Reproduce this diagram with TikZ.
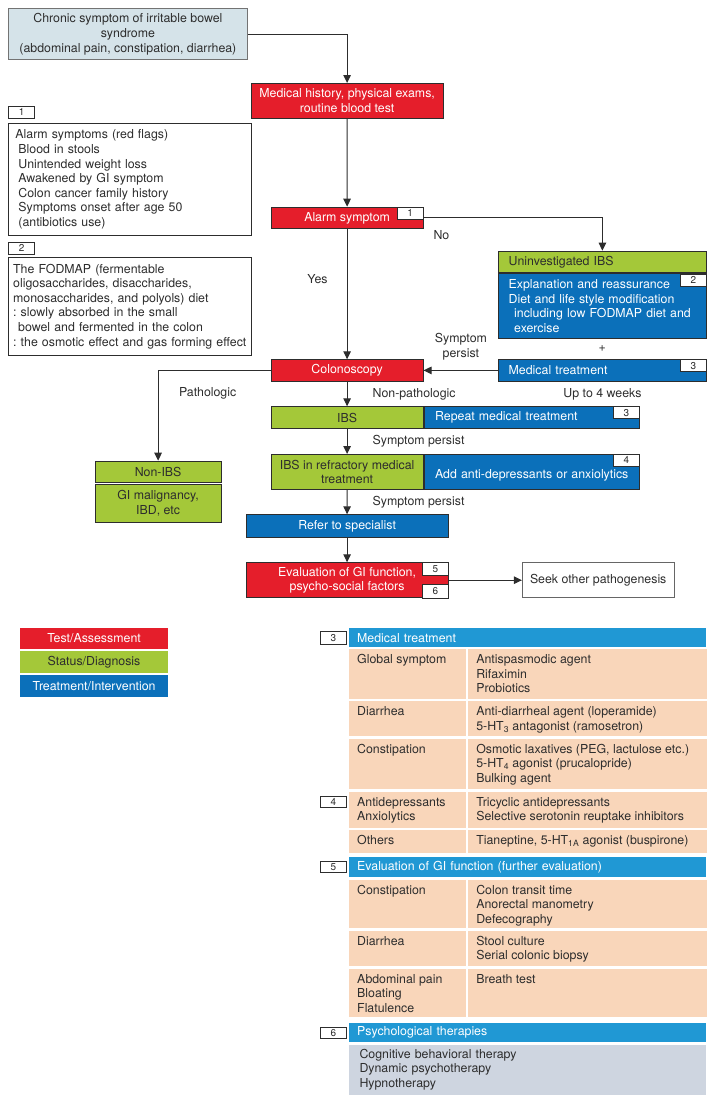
\documentclass[tikz,border=0pt]{standalone}
\usepackage{fontspec}
\setmainfont{TeX Gyre Heros}
\usetikzlibrary{positioning,arrows.meta}

\definecolor{testred}{RGB}{229,30,43}
\definecolor{statgreen}{RGB}{164,200,57}
\definecolor{treatblue}{RGB}{11,112,186}
\definecolor{headblue}{RGB}{32,152,212}
\definecolor{peach}{RGB}{249,214,186}
\definecolor{startgray}{RGB}{213,227,233}
\definecolor{psychgray}{RGB}{206,213,224}
\definecolor{inkgray}{RGB}{45,45,45}

\begin{document}
\begin{tikzpicture}[x=1bp, y=-1bp,
    every node/.style={font=\fontsize{12.4}{14.6}\selectfont, text=inkgray, inner sep=0pt},
    box/.style={draw=inkgray, line width=0.8bp, anchor=north west, align=center},
    test/.style={box, fill=testred, text=white},
    status/.style={box, fill=statgreen},
    treat/.style={box, fill=treatblue, text=white},
    note/.style={box, fill=white, align=left, inner xsep=6.7bp},
    tag/.style={draw=inkgray, line width=0.6bp, fill=white, font=\fontsize{10}{10}\selectfont, minimum width=26bp, minimum height=12bp},
    key/.style={anchor=north west, minimum width=147.7bp, minimum height=21.7bp},
    head/.style={anchor=north west, fill=headblue, text=white, minimum width=357bp, minimum height=19.4bp, text width=341bp, inner xsep=8bp, align=left},
    cell/.style={anchor=north west, fill=peach},
    celltx/.style={anchor=north west, align=left, inner xsep=8bp, inner ysep=5.5bp},
    arr/.style={-{Triangle[length=8bp,width=7.5bp]}, draw=inkgray, line width=1bp}]

\useasboundingbox (0,0) rectangle (715,1099);

% Flow chart
\node[box, draw=black!55, fill=startgray, minimum width=238.4bp, minimum height=51bp] (chronic) at (8.3,8.3) {Chronic symptom of irritable bowel\\syndrome\\(abdominal pain, constipation, diarrhea)};
\node[test, minimum width=192bp, minimum height=34.7bp] (history) at (250.7,83) {Medical history, physical exams,\\routine blood test};
\node[test, minimum width=152bp, minimum height=21.6bp] (alarm) at (270.7,206.7) {Alarm symptom};
\node[tag, anchor=north east, minimum height=12.6bp] (tagB1) at (alarm.north east) {1};

\node[status, minimum width=207.4bp, minimum height=21.6bp, text width=187.4bp, inner xsep=10bp, align=left] (uninv) at (498.3,250.7) {Uninvestigated IBS};
\node[treat, below=0pt of uninv, minimum width=207.4bp, minimum height=65bp, text width=187.4bp, inner xsep=10bp, align=left] (uninvtx) {Explanation and reassurance\\Diet and life style modification\\\hspace*{5.5bp}\mbox{including low FODMAP diet and}\\\hspace*{5.5bp}exercise};
\node[tag, anchor=north east, minimum width=25.7bp] (tagB2) at ([yshift=-1bp]uninvtx.north east) {2};
\node (plus) at (602.3,348.3) {+};
\node[treat, minimum width=207.4bp, minimum height=21.4bp, text width=187.4bp, inner xsep=10bp, align=left] (medtx) at (498.3,359.3) {Medical treatment};
\node[tag, anchor=north east, minimum width=25.7bp] (tagB3) at (medtx.north east) {3};
\node[below=7bp of medtx] (weeks) {Up to 4 weeks};

\node[test, minimum width=152bp, minimum height=21.4bp] (colon) at (270.7,359.3) {Colonoscopy};
\node[status, minimum width=126bp, minimum height=21.6bp] (nonibs) at (94.7,460.7) {Non-IBS};
\node[status, minimum width=126bp, minimum height=38.3bp] (gimal) at (94.7,484) {GI malignancy,\\IBD, etc};

\node[status, minimum width=152bp, minimum height=22bp] (ibs) at (270.7,406.3) {IBS};
\node[treat, right=0pt of ibs, minimum width=215.3bp, minimum height=22bp, text width=193bp, inner xsep=11.2bp, align=left] (repeat) {Repeat medical treatment};
\node[tag, anchor=north east] (tagB4) at (repeat.north east) {3};

\node[status, minimum width=152bp, minimum height=34.7bp] (refr) at (270.7,454) {IBS in refractory medical\\treatment};
\node[treat, right=0pt of refr, minimum width=215.3bp, minimum height=34.7bp, text width=193bp, inner xsep=11.2bp, align=left, text height=17bp, text depth=3bp] (refrtx) {\mbox{Add anti-depressants or anxiolytics}};
\node[tag, anchor=north east] (tagB5) at (refrtx.north east) {4};

\node[treat, minimum width=202bp, minimum height=22.4bp] (refer) at (245.7,514.3) {Refer to specialist};
\node[test, minimum width=202bp, minimum height=35bp] (eval) at (245.7,562.3) {Evaluation of GI function,\\psycho-social factors};
\node[tag, anchor=north east, minimum width=25.6bp, minimum height=12.7bp] (tagB6) at (eval.north east) {5};
\node[tag, anchor=south east, minimum width=25.6bp, minimum height=13.3bp] (tagB7) at (eval.south east) {6};
\node[box, draw=black!60, minimum width=151.8bp, minimum height=35bp] (seek) at (521.9,562.3) {Seek other pathogenesis};

% Side notes
\node[tag, anchor=north west] (tagA1) at (8.3,106) {1};
\node[note, minimum width=242.7bp, minimum height=112bp, text width=229.3bp] (alarmnote) at (8.3,123) {Alarm symptoms (red flags)\\\hspace*{3bp}Blood in stools\\\hspace*{3bp}Unintended weight loss\\\hspace*{3bp}Awakened by GI symptom\\\hspace*{3bp}Colon cancer family history\\\hspace*{3bp}Symptoms onset after age 50\\\hspace*{3bp}(antibiotics use)};
\node[tag, anchor=north west] (tagA2) at (8.3,242) {2};
\node[note, minimum width=242.7bp, minimum height=98bp, text width=233.7bp, inner xsep=4.5bp] (fodmap) at (8.3,257) {The FODMAP (fermentable\\oligosaccharides, disaccharides,\\monosaccharides, and polyols) diet\\:\ slowly absorbed in the small\\\hspace*{5bp}bowel and fermented in the colon\\\mbox{:\ the osmotic effect and gas forming effect}};

% Connections
\draw[arr] (chronic.east) -| (history.north);
\draw[arr] (history) -- (alarm);
\draw[arr] (alarm.east) -| node[pos=0.05, below=12bp] {No} (uninv.north);
\draw[arr] (alarm) -- node[pos=0.387, left=19bp] {Yes} (colon);
\draw[arr] (medtx) -- node[above=10bp, align=center] {Symptom\\persist} (colon);
\draw[arr] (colon.west) -| node[pos=0.28, below=17bp] {Pathologic} (nonibs.north);
\draw[arr] (colon) -- node[midway, right=25bp] {Non-pathologic} (ibs);
\draw[arr] (ibs) -- node[midway, right=25bp] {Symptom persist} (refr);
\draw[arr] (refr) -- node[midway, right=25bp] {Symptom persist} (refer);
\draw[arr] (refer) -- (eval);
\draw[arr] (eval) -- (seek);

% Legend
\node[key, fill=testred, text=white] (keytest) at (20,627.3) {Test/Assessment};
\node[key, fill=statgreen, below=1.6bp of keytest] (keystat) {Status/Diagnosis};
\node[key, fill=treatblue, text=white, below=1.6bp of keystat] (keytreat) {Treatment/Intervention};

% Table 3 and 4
\node[head] (head3) at (349,627.7) {Medical treatment};
\node[tag, left=2.3bp of head3, minimum height=12.7bp] (tagC3) {3};
\node[cell, below=1.4bp of head3.south west, anchor=north west, minimum width=116.7bp, minimum height=49.6bp, label={[celltx]north west:Global symptom}] (gs) {};
\node[cell, right=2bp of gs, minimum width=238.3bp, minimum height=49.6bp, label={[celltx]north west:{Antispasmodic agent\\Rifaximin\\Probiotics}}] (gsx) {};
\node[cell, below=1.9bp of gs, minimum width=116.7bp, minimum height=35bp, label={[celltx]north west:Diarrhea}] (dia) {};
\node[cell, right=2bp of dia, minimum width=238.3bp, minimum height=35bp, label={[celltx]north west:{Anti-diarrheal agent (loperamide)\\5-HT\textsubscript{3} antagonist (ramosetron)}}] (diax) {};
\node[cell, below=2.2bp of dia, minimum width=116.7bp, minimum height=50bp, label={[celltx]north west:Constipation}] (con) {};
\node[cell, right=2bp of con, minimum width=238.3bp, minimum height=50bp, label={[celltx]north west:{Osmotic laxatives (PEG, lactulose etc.)\\5-HT\textsubscript{4} agonist (prucalopride)\\Bulking agent}}] (conx) {};
\node[cell, below=2.5bp of con, minimum width=116.7bp, minimum height=36bp, label={[celltx]north west:{Antidepressants\\Anxiolytics}}] (adep) {};
\node[cell, right=2bp of adep, minimum width=238.3bp, minimum height=36bp, label={[celltx]north west:{Tricyclic antidepressants\\Selective serotonin reuptake inhibitors}}] (adepx) {};
\node[tag, anchor=north east, minimum height=11bp] (tagC4) at ([xshift=-2.3bp, yshift=-5bp]adep.north west) {4};
\node[cell, below=2.3bp of adep, minimum width=116.7bp, minimum height=22.7bp, label={[celltx]north west:Others}] (oth) {};
\node[cell, right=2bp of oth, minimum width=238.3bp, minimum height=22.7bp, label={[celltx]north west:{Tianeptine, 5-HT\textsubscript{1A} agonist (buspirone)}}] (othx) {};

% Table 5
\node[head, below=4bp of oth.south west, anchor=north west] (head5) {Evaluation of GI function (further evaluation)};
\node[tag, left=2.3bp of head5, minimum height=11bp] (tagC5) {5};
\node[cell, below=2.4bp of head5.south west, anchor=north west, minimum width=116.7bp, minimum height=48.3bp, label={[celltx]north west:Constipation}] (con5) {};
\node[cell, right=2bp of con5, minimum width=238.3bp, minimum height=48.3bp, label={[celltx]north west:{Colon transit time\\Anorectal manometry\\Defecography}}] (con5x) {};
\node[cell, below=2.3bp of con5, minimum width=116.7bp, minimum height=35bp, label={[celltx]north west:Diarrhea}] (dia5) {};
\node[cell, right=2bp of dia5, minimum width=238.3bp, minimum height=35bp, label={[celltx]north west:{Stool culture\\Serial colonic biopsy}}] (dia5x) {};
\node[cell, below=2.7bp of dia5, minimum width=116.7bp, minimum height=48.3bp, label={[celltx]north west:{Abdominal pain\\Bloating\\Flatulence}}] (abd5) {};
\node[cell, right=2bp of abd5, minimum width=238.3bp, minimum height=48.3bp, label={[celltx]north west:Breath test}] (abd5x) {};

% Table 6
\node[head, below=5.7bp of abd5.south west, anchor=north west] (head6) {Psychological therapies};
\node[tag, left=2.3bp of head6, minimum height=11bp] (tagC6) {6};
\node[cell, fill=psychgray, below=1.7bp of head6, minimum width=357bp, minimum height=50bp, text width=336.4bp, inner xsep=10.3bp, align=left] (psych) {Cognitive behavioral therapy\\Dynamic psychotherapy\\Hypnotherapy};

\end{tikzpicture}
\end{document}
